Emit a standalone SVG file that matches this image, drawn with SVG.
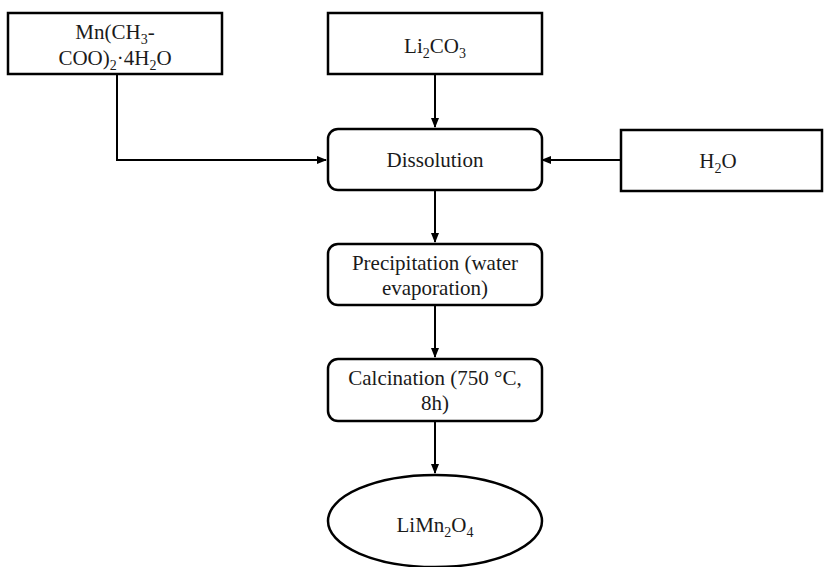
<svg xmlns="http://www.w3.org/2000/svg" width="824" height="567" viewBox="0 0 824 567">
<style>
.box{fill:#fff;stroke:#000;stroke-width:2.5}
text{font-family:'Liberation Serif','Tinos','DejaVu Serif',serif;font-size:21px;fill:#1a1a1a;text-anchor:middle}
.s{font-size:14px}
.c{fill:none;stroke:#000;stroke-width:2}
</style>
<defs>
<marker id="a" markerWidth="10" markerHeight="8" refX="9" refY="4" orient="auto" markerUnits="userSpaceOnUse">
<path d="M0,0 L10,4 L0,8 Z" fill="#000"/>
</marker>
</defs>
<rect width="824" height="567" fill="#fff"/>
<g id="connectors">
<polyline class="c" points="117,74 117,160 326,160" marker-end="url(#a)"/>
<line class="c" x1="435" y1="74" x2="435" y2="127" marker-end="url(#a)"/>
<line class="c" x1="621" y1="160" x2="542" y2="160" marker-end="url(#a)"/>
<line class="c" x1="435" y1="190" x2="435" y2="242" marker-end="url(#a)"/>
<line class="c" x1="435" y1="305" x2="435" y2="357" marker-end="url(#a)"/>
<line class="c" x1="435" y1="421" x2="435" y2="473" marker-end="url(#a)"/>
</g>
<g id="mn">
<rect class="box" x="8" y="13" width="214" height="61"/>
<text x="115" y="39">Mn(CH<tspan class="s" dy="5">3</tspan><tspan dy="-5">-</tspan></text>
<text x="115" y="65">COO)<tspan class="s" dy="5">2</tspan><tspan dy="-5">·4H</tspan><tspan class="s" dy="5">2</tspan><tspan dy="-5">O</tspan></text>
</g>
<g id="li2co3">
<rect class="box" x="328" y="13" width="214" height="61"/>
<text x="435" y="53">Li<tspan class="s" dy="5">2</tspan><tspan dy="-5">CO</tspan><tspan class="s" dy="5">3</tspan></text>
</g>
<g id="dissolution">
<rect class="box" x="328" y="129" width="214" height="61" rx="10"/>
<text x="435" y="167">Dissolution</text>
</g>
<g id="h2o">
<rect class="box" x="621" y="130" width="201" height="61"/>
<text x="718" y="168">H<tspan class="s" dy="5">2</tspan><tspan dy="-5">O</tspan></text>
</g>
<g id="precipitation">
<rect class="box" x="328" y="244" width="214" height="61" rx="10"/>
<text x="435" y="270">Precipitation (water</text>
<text x="435" y="295">evaporation)</text>
</g>
<g id="calcination">
<rect class="box" x="328" y="359" width="214" height="62" rx="10"/>
<text x="435" y="385">Calcination (750 °C,</text>
<text x="435" y="410">8h)</text>
</g>
<g id="limn2o4">
<ellipse class="box" cx="435" cy="521" rx="107" ry="46"/>
<text x="435" y="532">LiMn<tspan class="s" dy="5">2</tspan><tspan dy="-5">O</tspan><tspan class="s" dy="5">4</tspan></text>
</g>
</svg>
